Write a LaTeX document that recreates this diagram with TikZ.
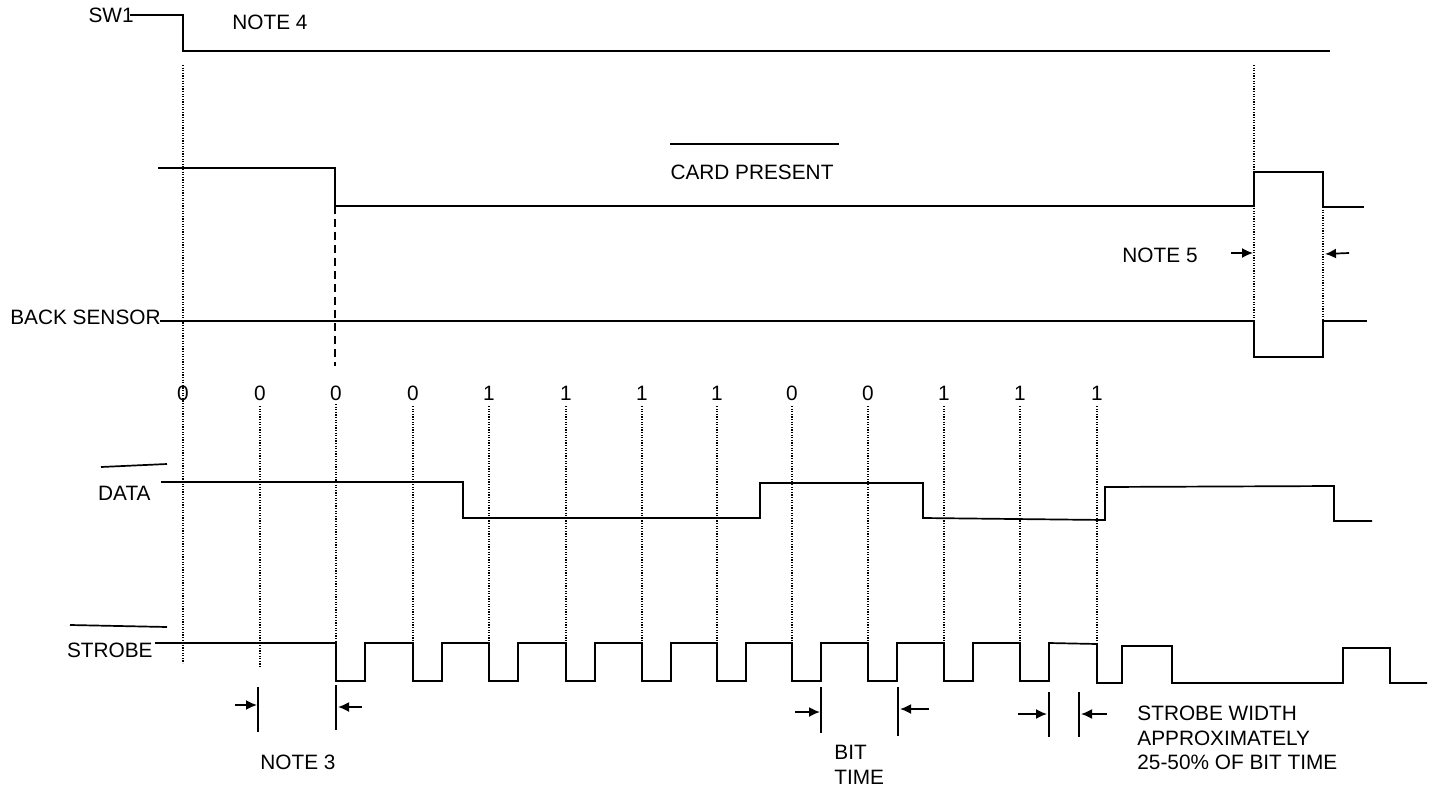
\documentclass[tikz,border=0pt]{standalone}
\usepackage{fontspec}
\setmainfont{Liberation Sans}
\usetikzlibrary{arrows.meta}

\begin{document}
\begin{tikzpicture}[x=0.5pt,y=-0.5pt,font=\fontsize{10.4}{12.2}\selectfont,
  sig/.style={line width=0.85pt},
  grid/.style={line width=0.6pt,dash pattern=on 0.6pt off 0.7pt},
  arr/.style={-{Latex[length=5.5pt,width=5pt]},line width=0.85pt},
  lbl/.style={inner sep=0pt}]
\useasboundingbox (0,0) rectangle (1433,786);
% signal names
\node[lbl,anchor=east] (sw1) at (134,15) {SW1};
\node[lbl] (note4) at (270,22) {NOTE 4};
\node[lbl] (card) at (752,172) {CARD PRESENT};
\draw[sig] (670,144) -- (839,144);
\node[lbl,anchor=east] (back) at (161,317) {BACK SENSOR};
\node[lbl,anchor=east] (data) at (151,493) {DATA};
\draw[sig] (101,467) -- (167,464);
\node[lbl,anchor=east] (strobe) at (153,650) {STROBE};
\draw[sig] (70,625) -- (167,627);
% bit cells
\foreach \x/\b [count=\i] in {183/0,260/0,336/0,413/0,489/1,566/1,642/1,717/1,792/0,868/0,944/1,1020/1,1097/1}
  \node[lbl] (bit\i) at (\x,393) {\b};
\draw[grid] (183,65) -- (183,663);
\draw[grid] (260,406) -- (260,667);
\draw[grid] (336,404) -- (336,643);
\foreach \x in {413,489,566,642,717,792,868,944,1020,1097}
  \draw[grid] (\x,406) -- (\x,643);
\draw[grid] (1254,65) -- (1254,321);
\draw[grid] (1323,207) -- (1323,321);
\draw[line width=0.75pt,dash pattern=on 4pt off 2.5pt] (335,206) -- (335,366);
% waveforms
\draw[sig] (130,15) -- (183,15) -- (183,51) -- (1330,51);
\draw[sig] (158,168) -- (335,168) -- (335,206) -- (1254,206) -- (1254,172) -- (1323,172) -- (1323,207) -- (1364,207);
\draw[sig] (160,321) -- (1254,321) -- (1254,357) -- (1323,357) -- (1323,321) -- (1367,321);
\draw[sig] (161,482) -- (463,482) -- (463,518) -- (760,518) -- (760,483) -- (923,483) -- (923,518) -- (1105,520) -- (1105,487) -- (1334,486) -- (1334,521) -- (1372,521);
\draw[sig] (155,643) foreach \f in {336,413,489,566,642,717,792,868,944,1020} { -- (\f,643) -- (\f,681) -- ({\f+29},681) -- ({\f+29},643) }
  -- (1097,644) -- (1097,683) -- (1122,683) -- (1122,646) -- (1172,646) -- (1172,683) -- (1343,683) -- (1343,648) -- (1390,648) -- (1390,683) -- (1427,683);
% NOTE 3
\draw[sig] (258,687) -- (258,732);
\draw[sig] (336,685) -- (336,730);
\draw[arr] (235,705) -- (257,705);
\draw[arr] (362,707) -- (338,707);
\node[lbl] (note3) at (298,762) {NOTE 3};
% bit time
\draw[sig] (821,687) -- (821,733);
\draw[sig] (898,687) -- (898,736);
\draw[arr] (795,712) -- (820,712);
\draw[arr] (929,709) -- (900,709);
\node[lbl,anchor=west,align=left] (bittime) at (834,765) {BIT\\TIME};
% strobe width
\draw[sig] (1049,692) -- (1049,737);
\draw[sig] (1079,692) -- (1079,737);
\draw[arr] (1018,714) -- (1047,714);
\draw[arr] (1107,714) -- (1081,714);
\node[lbl,anchor=west,align=left] (width) at (1137,738) {STROBE WIDTH\\APPROXIMATELY\\25-50\% OF BIT TIME};
% NOTE 5
\node[lbl] (note5) at (1160,255) {NOTE 5};
\draw[arr] (1231,253) -- (1253,253);
\draw[arr] (1349,253) -- (1325,254);
\end{tikzpicture}
\end{document}
